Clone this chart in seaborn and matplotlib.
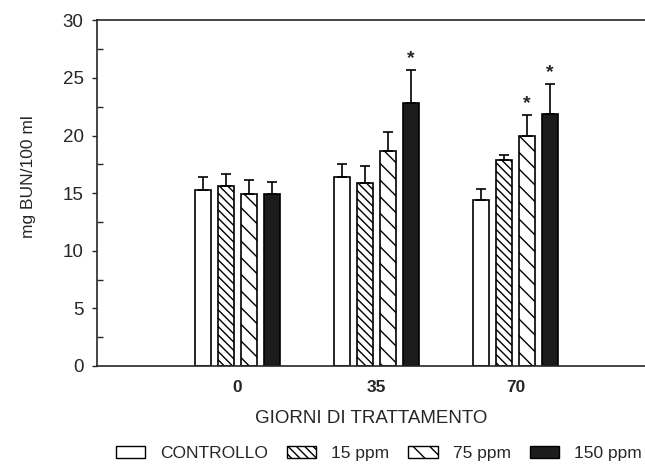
import numpy as np
import pandas as pd
import matplotlib
matplotlib.use("Agg")
import matplotlib.pyplot as plt
from matplotlib.patches import Patch
from matplotlib.ticker import MultipleLocator
import seaborn as sns

# ------------------------------------------------------------------------
# data
# ------------------------------------------------------------------------
days = ["0", "35", "70"]
groups = ["CONTROLLO", "15 ppm", "75 ppm", "150 ppm"]

means = {
    "CONTROLLO": [15.3, 16.4, 14.4],
    "15 ppm":    [15.6, 15.9, 17.9],
    "75 ppm":    [14.9, 18.7, 20.0],
    "150 ppm":   [14.9, 22.8, 21.9],
}
sem = {
    "CONTROLLO": [1.1, 1.1, 1.0],
    "15 ppm":    [1.1, 1.5, 0.4],
    "75 ppm":    [1.2, 1.6, 1.8],
    "150 ppm":   [1.1, 2.9, 2.6],
}
# significant vs control (group, day index)
signif = [("150 ppm", 1), ("75 ppm", 2), ("150 ppm", 2)]

fills = ["white", "white", "white", "#1c1c1c"]
hatches = ["", "\\\\\\\\", "\\\\", ""]

df = pd.DataFrame(
    [(d, g, means[g][i]) for g in groups for i, d in enumerate(days)],
    columns=["giorno", "gruppo", "bun"],
)

# ------------------------------------------------------------------------
# plot
# ------------------------------------------------------------------------
sns.set_style("ticks")
plt.rcParams["font.family"] = ["Liberation Sans", "DejaVu Sans"]
plt.rcParams["hatch.linewidth"] = 1.0
plt.rcParams["hatch.color"] = "black"

fig = plt.figure(figsize=(6.45, 4.74), dpi=100)
ax = fig.add_axes([0.150, 0.228, 0.85, 0.729])

sns.barplot(
    data=df, x="giorno", y="bun", hue="gruppo", order=days, hue_order=groups,
    palette=fills, width=0.664, gap=0.31, errorbar=None, dodge=True,
    edgecolor="black", linewidth=1.2, legend=False, ax=ax,
)

for g, cont, hatch in zip(groups, ax.containers, hatches):
    xs, tops = [], []
    for bar in cont:
        bar.set_hatch(hatch)
        bar.set_edgecolor("black")
        xs.append(bar.get_x() + bar.get_width() / 2)
        tops.append(bar.get_height())
    ax.errorbar(xs, tops, yerr=[np.zeros(len(xs)), sem[g]], fmt="none",
                ecolor="black", elinewidth=1.2, capsize=3.5, capthick=1.2,
                zorder=1)
    for name, i in signif:
        if name == g:
            ax.text(xs[i], tops[i] + sem[g][i] + 0.25, "*", ha="center",
                    va="bottom", fontsize=14, fontweight="bold")

ax.set_ylim(0, 30)
ax.set_xlim(-1.01, 2.93)
ax.yaxis.set_major_locator(MultipleLocator(5))
ax.yaxis.set_minor_locator(MultipleLocator(2.5))
ax.tick_params(axis="y", which="major", direction="out", length=3.5, width=1,
               labelsize=13.5, pad=6)
ax.tick_params(axis="y", which="minor", direction="in", length=4, width=1)
ax.tick_params(axis="x", length=0, labelsize=12.5, pad=10)
for lab in ax.get_xticklabels():
    lab.set_fontweight("bold")

ax.spines["right"].set_visible(False)
for s in ["left", "bottom", "top"]:
    ax.spines[s].set_linewidth(1.2)

ax.set_xlabel("GIORNI DI TRATTAMENTO", fontsize=13.5, labelpad=11)
ax.set_ylabel("mg BUN/100 ml", fontsize=12.5, labelpad=19, y=0.548)

handles = [Patch(facecolor=f, edgecolor="black", hatch=h, linewidth=1.0, label=g)
           for g, f, h in zip(groups, fills, hatches)]
fig.legend(handles=handles, loc="center", bbox_to_anchor=(0.587, 0.044),
           ncol=4, frameon=False, fontsize=12.5, handlelength=1.7,
           handleheight=0.7, handletextpad=0.85, columnspacing=1.1)

fig.savefig("out.png", dpi=100)
